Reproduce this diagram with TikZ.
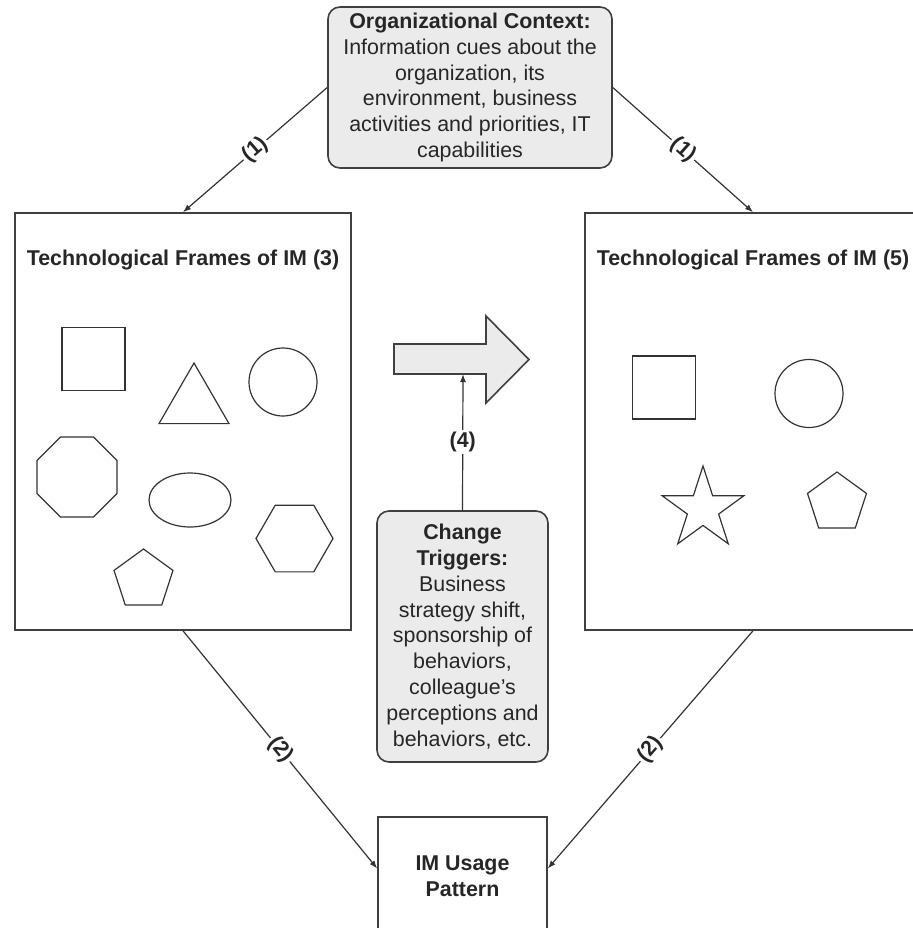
\documentclass[tikz,border=0pt]{standalone}
\usepackage{fontspec}
\setmainfont{Liberation Sans}
\usetikzlibrary{shapes.geometric,arrows.meta}

\begin{document}
\begin{tikzpicture}[x=0.5pt,y=-0.5pt,
  font=\fontsize{10.7}{12.9}\selectfont, text=black!85,
  infobox/.style={draw=black!75, line width=0.8pt, fill=black!8, rounded corners=6pt, align=center, inner sep=0pt},
  framebox/.style={draw=black!75, line width=0.8pt, inner sep=0pt},
  figure/.style={draw=black!80, line width=0.6pt, inner sep=0pt, outer sep=0pt},
  link/.style={draw=black!80, line width=0.6pt, -{Latex[length=4pt,width=3pt]}},
  tag/.style={font=\fontsize{10.7}{12.9}\selectfont\bfseries, fill=white, inner sep=1pt}]
\useasboundingbox (0,0) rectangle (912,928);
% boxes
\path (470,87.5) node[infobox, minimum width=142pt, minimum height=80.5pt] (orgctx)
  {\textbf{Organizational Context:}\\Information cues about the\\organization, its\\environment, business\\activities and priorities, IT\\capabilities};
\path (183,421.5) node[framebox, minimum width=168pt, minimum height=208.5pt] (frameold) {};
\path (753,421.5) node[framebox, minimum width=168pt, minimum height=208.5pt] (framenew) {};
\path (183,260) node[font=\fontsize{10.7}{12.9}\selectfont\bfseries] (titleold) {Technological Frames of IM (3)};
\path (753,260) node[font=\fontsize{10.7}{12.9}\selectfont\bfseries] (titlenew) {Technological Frames of IM (5)};
\path (462.5,636.5) node[infobox, minimum width=85.5pt, minimum height=125.5pt] (change)
  {\textbf{Change}\\\textbf{Triggers:}\\Business\\strategy shift,\\sponsorship of\\behaviors,\\colleague's\\perceptions and\\behaviors, etc.};
\path (462.5,876) node[framebox, minimum width=84.5pt, minimum height=59pt, align=center,
  font=\fontsize{10.7}{12.9}\selectfont\bfseries] (usage) {IM Usage\\Pattern};

% shapes, old frame
\path (93.5,359) node[figure, minimum size=31.5pt] (sqold) {};
\path (194,403.4) node[figure, regular polygon, regular polygon sides=3, minimum size=40.4pt] (triold) {};
\path (283,382) node[figure, circle, minimum size=34pt] (circold) {};
\path (77,477) node[figure, regular polygon, regular polygon sides=8, minimum size=43.3pt] (octold) {};
\path (190,500) node[figure, ellipse, minimum width=41pt, minimum height=27pt] (ellold) {};
\path (294.5,538.5) node[figure, regular polygon, regular polygon sides=6, minimum size=38.5pt] (hexold) {};
\path (143.5,580) node[figure, regular polygon, regular polygon sides=5, minimum size=31pt] (pentold) {};

% shapes, new frame
\path (664,387.5) node[figure, minimum size=31.5pt] (sqnew) {};
\path (809,393.5) node[figure, circle, minimum size=34pt] (circnew) {};
\path (703,509) node[figure, star, star points=5, star point ratio=2.618, minimum size=43pt] (starnew) {};
\path (837,503) node[figure, regular polygon, regular polygon sides=5, minimum size=31pt] (pentnew) {};

% shift arrow
\draw[draw=black!75, line width=0.8pt, fill=black!8] (394,344) -- (486,344) -- (486,316) -- (529,359.5)
  -- (486,403) -- (486,374) -- (394,374) -- cycle;
\coordinate (shaftbot) at (463,374);

% links
\draw[link] (orgctx.west) -- node[tag, sloped] {(1)} (frameold.north);
\draw[link] (orgctx.east) -- node[tag, sloped] {(1)} (framenew.north);
\draw[link] (frameold.south) -- node[tag, sloped] {(2)} (usage.175);
\draw[link] (framenew.south) -- node[tag, sloped] {(2)} (usage.5);
\draw[link] (change.north) -- node[tag] {(4)} (shaftbot);
\end{tikzpicture}
\end{document}
